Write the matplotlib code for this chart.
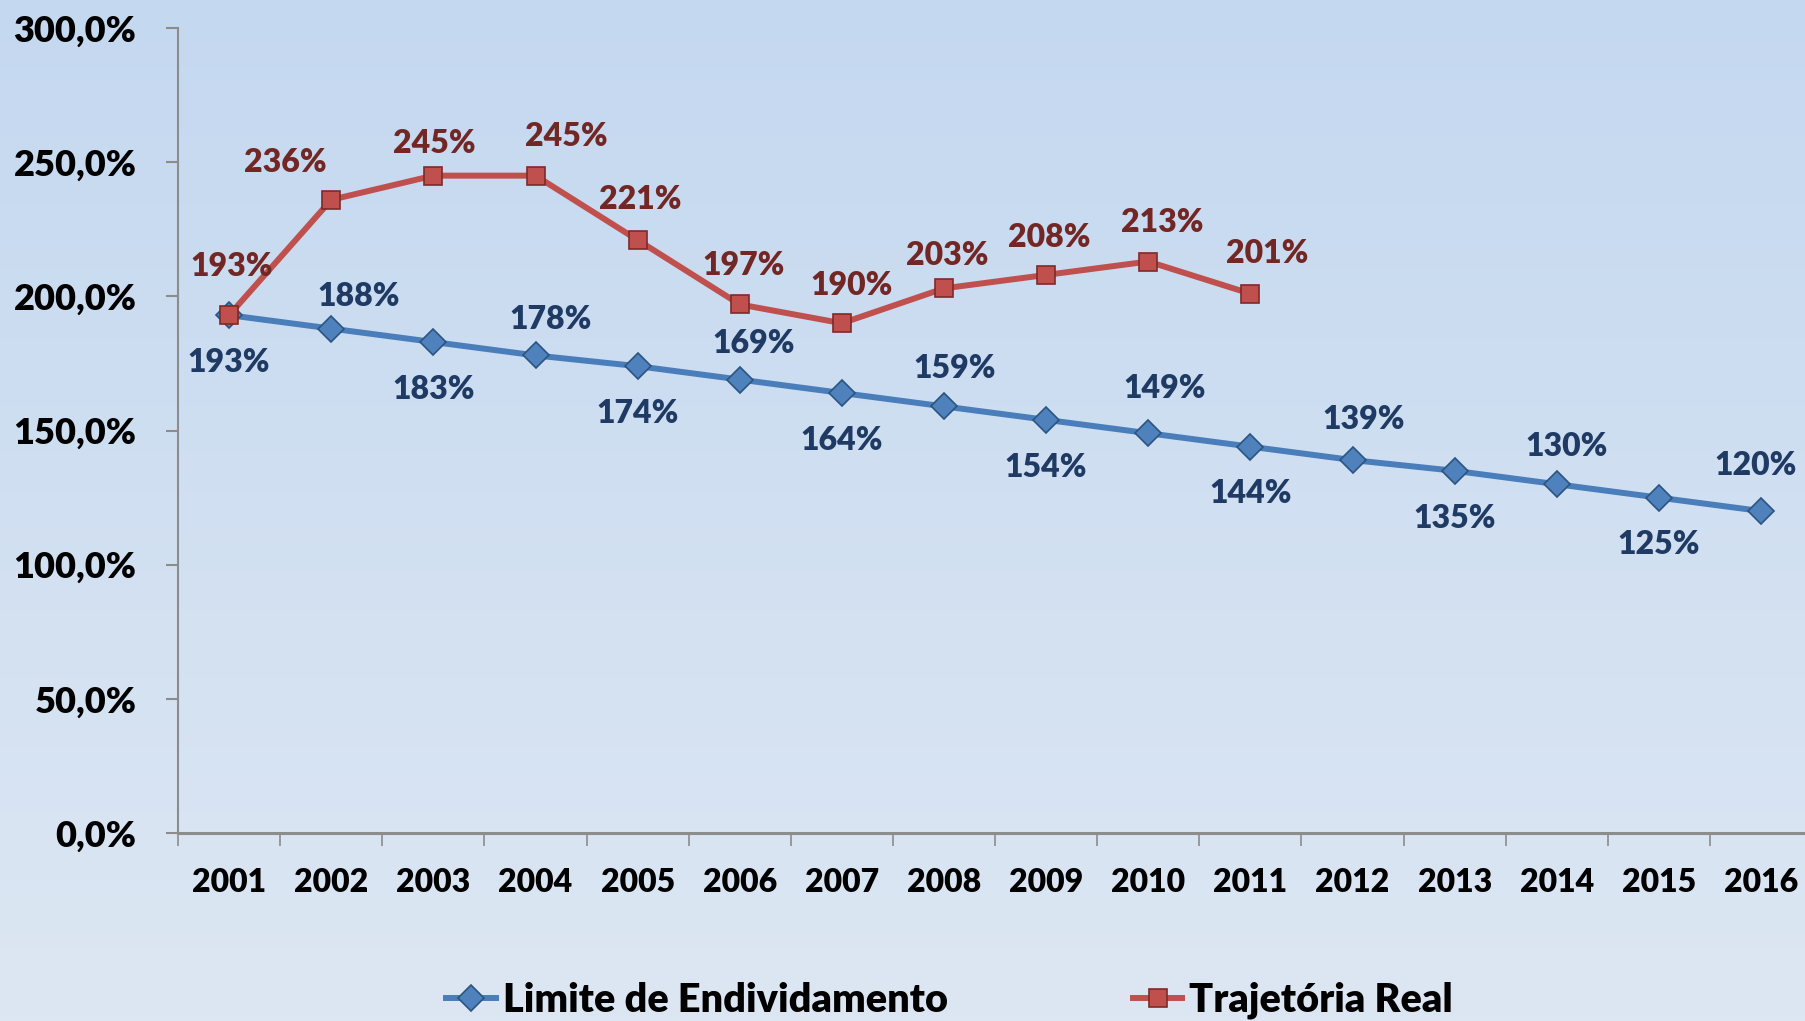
import matplotlib
matplotlib.use("Agg")
import matplotlib.pyplot as plt
import numpy as np
from matplotlib.colors import LinearSegmentedColormap

years = ["2001", "2002", "2003", "2004", "2005", "2006", "2007", "2008",
         "2009", "2010", "2011", "2012", "2013", "2014", "2015", "2016"]
limite = [193, 188, 183, 178, 174, 169, 164, 159, 154, 149, 144, 139, 135, 130, 125, 120]
real = [193, 236, 245, 245, 221, 197, 190, 203, 208, 213, 201]
ytick_vals = [0, 50, 100, 150, 200, 250, 300]
ytick_labels = ["0,0%", "50,0%", "100,0%", "150,0%", "200,0%", "250,0%", "300,0%"]

FONT = ["Lato", "DejaVu Sans"]
WEIGHT = "heavy"
plt.rcParams["font.family"] = FONT
plt.rcParams["font.weight"] = "bold"

fig = plt.figure(figsize=(18.06, 10.21), dpi=100)

# gradient background
bg = fig.add_axes([0, 0, 1, 1], zorder=-10)
cmap = LinearSegmentedColormap.from_list("bg", ["#c4d8f0", "#dde7f3"])
bg.imshow(np.linspace(0, 1, 256).reshape(-1, 1), aspect="auto", cmap=cmap,
          extent=[0, 1, 0, 1], origin="upper")
bg.set_axis_off()

ax = fig.add_axes([0.0986, 0.1841, 0.9014, 0.7884])
ax.patch.set_alpha(0)

x_lim = np.arange(1, len(limite) + 1)
x_real = np.arange(1, len(real) + 1)

ax.plot(x_lim, limite, color="#4a7ebb", lw=4.3, marker="D", ms=13,
        markerfacecolor="#4f81bd", markeredgecolor="#2c5480", markeredgewidth=1.2,
        label="Limite de Endividamento", zorder=3, solid_capstyle="butt")
ax.plot(x_real, real, color="#c0504d", lw=4.3, marker="s", ms=13,
        markerfacecolor="#c0504d", markeredgecolor="#7f2a28", markeredgewidth=1.2,
        label="Trajetória Real", zorder=4, solid_capstyle="butt")

# data label offsets (points)
blue_above_dx = [20, 11, 10, 8, 12, 8, 7, -4]
blue_above_dy = [23, 26, 26, 27, 32, 29, 27, 33]
for i, v in enumerate(limite):
    if i % 2 == 0:
        dx, dy = 0, -34
    else:
        dx, dy = blue_above_dx[i // 2], blue_above_dy[i // 2]
    ax.annotate(f"{v}%", (x_lim[i], v), xytext=(dx, dy),
                textcoords="offset points", ha="center", va="center",
                fontsize=23, fontweight=WEIGHT, color="#1f3b64", zorder=5)

red_dx = [2, -33, 1, 22, 2, 3, 7, 2, 2, 10, 12]
red_dy = [35, 27, 23, 28, 29, 28, 27, 24, 27, 28, 29]
for i, v in enumerate(real):
    ax.annotate(f"{v}%", (x_real[i], v), xytext=(red_dx[i], red_dy[i]),
                textcoords="offset points", ha="center", va="center",
                fontsize=23, fontweight=WEIGHT, color="#722725", zorder=5)

ax.set_ylim(0, 300)
ax.set_xlim(0.5, 16.44)
ax.set_yticks(ytick_vals)
ax.set_yticklabels(ytick_labels, fontsize=26, fontweight=WEIGHT)
ax.set_xticks(x_lim)
ax.set_xticklabels(years, fontsize=23, fontweight=WEIGHT)
ax.set_xticks(np.arange(0.5, 16.5, 1.0), minor=True)
ax.tick_params(axis="x", which="major", length=0, pad=25)
ax.tick_params(axis="x", which="minor", length=9, width=1.2, color="#8c8c8c", direction="out")
ax.tick_params(axis="y", which="major", length=9, width=1.5, color="#8c8c8c", pad=21)

for s in ["top", "right"]:
    ax.spines[s].set_visible(False)
ax.spines["left"].set_color("#8c8c8c")
ax.spines["left"].set_linewidth(1.5)
ax.spines["bottom"].set_color("#8c8c8c")
ax.spines["bottom"].set_linewidth(2.2)

leg = fig.legend(loc="center", bbox_to_anchor=(0.525, 0.02), ncol=2, frameon=False,
                 prop={"family": FONT, "weight": WEIGHT, "size": 28.5},
                 handlelength=1.4, columnspacing=4.6, handletextpad=0.1)

fig.savefig("out.png", dpi=100)
